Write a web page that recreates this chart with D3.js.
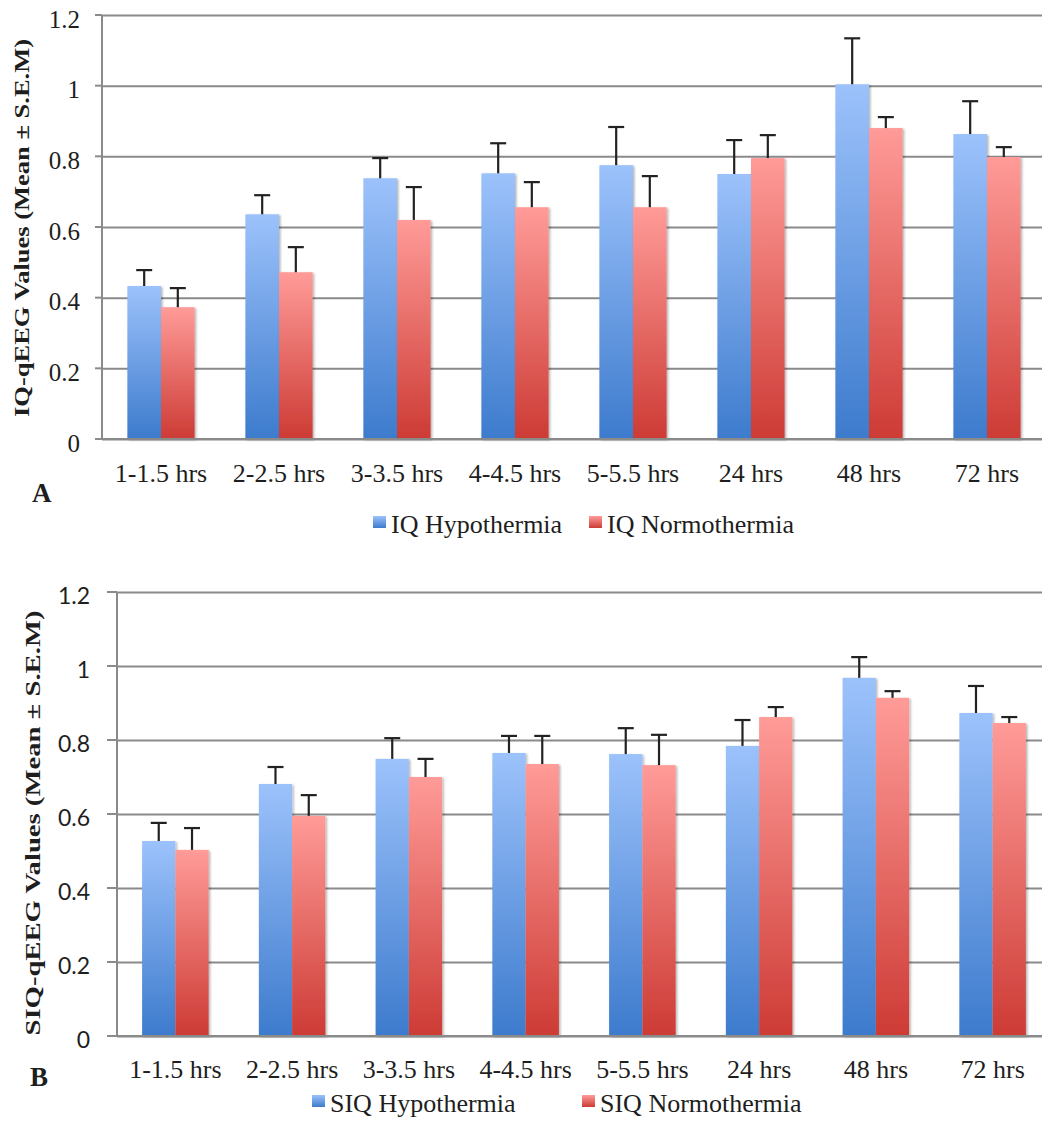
<!DOCTYPE html>
<html>
<head>
<meta charset="utf-8">
<script src="https://cdn.jsdelivr.net/npm/d3@7"></script>
<style>
  body { margin: 0; background: #fff; }
  svg { display: block; }
</style>
</head>
<body>
<svg id="fig"></svg>
<script>
// categories and tick labels
const categories = ["1-1.5 hrs", "2-2.5 hrs", "3-3.5 hrs", "4-4.5 hrs", "5-5.5 hrs", "24 hrs", "48 hrs", "72 hrs"];
const yTicks = [0, 0.2, 0.4, 0.6, 0.8, 1, 1.2];

// panel A (IQ)
const iqHypo      = [0.433, 0.636, 0.738, 0.752, 0.775, 0.750, 1.004, 0.863];
const iqHypoErr   = [0.045, 0.054, 0.057, 0.085, 0.108, 0.096, 0.130, 0.093];
const iqNormo     = [0.373, 0.472, 0.620, 0.656, 0.656, 0.795, 0.880, 0.798];
const iqNormoErr  = [0.054, 0.071, 0.093, 0.071, 0.088, 0.065, 0.031, 0.028];

// panel B (SIQ)
const siqHypo     = [0.527, 0.681, 0.749, 0.765, 0.762, 0.784, 0.968, 0.873];
const siqHypoErr  = [0.049, 0.046, 0.056, 0.046, 0.070, 0.070, 0.056, 0.073];
const siqNormo    = [0.503, 0.595, 0.700, 0.735, 0.732, 0.862, 0.914, 0.846];
const siqNormoErr = [0.059, 0.056, 0.049, 0.076, 0.082, 0.027, 0.018, 0.016];

const W = 1042, H = 1121;
const svg = d3.select("#fig").attr("width", W).attr("height", H);
const defs = svg.append("defs");

function grad(id, top, bottom) {
  const g = defs.append("linearGradient").attr("id", id)
    .attr("x1", 0).attr("y1", 0).attr("x2", 0).attr("y2", 1);
  g.append("stop").attr("offset", "0%").attr("stop-color", top);
  g.append("stop").attr("offset", "100%").attr("stop-color", bottom);
}
grad("gBlue", "#9cc2fb", "#3d7bcd");
grad("gRed", "#ff9b98", "#cd3b35");

const shadow = defs.append("filter").attr("id", "shadow")
  .attr("x", "-10%").attr("y", "-10%").attr("width", "130%").attr("height", "120%");
shadow.append("feDropShadow").attr("dx", 1.5).attr("dy", 1).attr("stdDeviation", 1.2)
  .attr("flood-color", "#000").attr("flood-opacity", 0.3);

const serif = "'Liberation Serif', 'Times New Roman', serif";

function drawChart(cfg) {
  const x = d3.scaleBand()
    .domain(categories)
    .range([cfg.left, cfg.right])
    .paddingInner(0.43)
    .paddingOuter(0.215);

  const xSub = d3.scaleBand()
    .domain([0, 1])
    .range([0, x.bandwidth()]);

  const y = d3.scaleLinear()
    .domain([0, 1.2])
    .range([cfg.bottom, cfg.top]);

  const g = svg.append("g");

  // gridlines
  g.append("g")
    .attr("transform", `translate(${cfg.left}, 0)`)
    .call(d3.axisLeft(y).tickValues(yTicks).tickSize(-(W - cfg.left + 10)).tickSizeOuter(0).tickFormat(""))
    .call(a => a.select(".domain").remove())
    .call(a => a.selectAll("line").attr("stroke", "#8a8a8a").attr("stroke-width", 2));

  // small ticks left of the axis
  g.append("g")
    .selectAll("line.tk")
    .data(yTicks)
    .enter().append("line")
      .attr("x1", cfg.left - cfg.tick)
      .attr("x2", cfg.left)
      .attr("y1", d => y(d))
      .attr("y2", d => y(d))
      .attr("stroke", "#8a8a8a")
      .attr("stroke-width", 2);

  // y axis line
  g.append("line")
    .attr("x1", cfg.left).attr("x2", cfg.left)
    .attr("y1", y(1.2)).attr("y2", y(0))
    .attr("stroke", "#8a8a8a").attr("stroke-width", 2);

  // tick labels
  g.append("g")
    .selectAll("text")
    .data(yTicks)
    .enter().append("text")
      .attr("x", cfg.tickLabelX)
      .attr("y", d => y(d))
      .attr("dy", "0.5em")
      .attr("text-anchor", "end")
      .attr("font-family", cfg.tickFont)
      .attr("font-size", cfg.tickSize)
      .attr("fill", "#1e1e1e")
      .text(d => d);

  // bars
  const series = [
    { vals: cfg.hypo, err: cfg.hypoErr, fill: "url(#gBlue)" },
    { vals: cfg.normo, err: cfg.normoErr, fill: "url(#gRed)" }
  ];

  series.forEach((s, si) => {
    const grp = g.append("g");
    categories.forEach((c, i) => {
      grp.append("rect")
        .attr("x", x(c) + xSub(si))
        .attr("y", y(s.vals[i]))
        .attr("width", xSub.bandwidth())
        .attr("height", y(0) - y(s.vals[i]))
        .attr("fill", s.fill)
        .attr("filter", "url(#shadow)");
    });
  });

  // error bars (upper only)
  series.forEach((s, si) => {
    const grp = g.append("g").attr("stroke", "#222").attr("stroke-width", 2.2);
    categories.forEach((c, i) => {
      const cx = x(c) + xSub(si) + xSub.bandwidth() / 2;
      const top = y(s.vals[i] + s.err[i]);
      grp.append("line")
        .attr("x1", cx).attr("x2", cx)
        .attr("y1", y(s.vals[i])).attr("y2", top);
      grp.append("line")
        .attr("x1", cx - 8).attr("x2", cx + 8)
        .attr("y1", top).attr("y2", top);
    });
  });

  // baseline
  g.append("line")
    .attr("x1", cfg.left - cfg.tick).attr("x2", W)
    .attr("y1", y(0)).attr("y2", y(0))
    .attr("stroke", "#8a8a8a").attr("stroke-width", 2);

  // x labels
  g.append("g")
    .selectAll("text")
    .data(categories)
    .enter().append("text")
      .attr("x", d => x(d) + x.bandwidth() / 2)
      .attr("y", cfg.xLabelY)
      .attr("text-anchor", "middle")
      .attr("font-family", serif)
      .attr("font-size", 26)
      .attr("fill", "#1e1e1e")
      .text(d => d);

  // y title
  g.append("text")
    .attr("transform", `translate(${cfg.titleX}, ${cfg.titleY}) rotate(-90)`)
    .attr("text-anchor", "middle")
    .attr("dominant-baseline", "middle")
    .attr("font-family", serif)
    .attr("font-weight", "bold")
    .attr("font-size", 22)
    .attr("textLength", cfg.titleLen)
    .attr("lengthAdjust", "spacingAndGlyphs")
    .attr("fill", "#1e1e1e")
    .text(cfg.title);

  // panel letter
  g.append("text")
    .attr("x", cfg.letterX)
    .attr("y", cfg.letterY)
    .attr("font-family", serif)
    .attr("font-weight", "bold")
    .attr("font-size", 27)
    .attr("fill", "#1e1e1e")
    .text(cfg.letter);

  // legend
  const leg = g.append("g");
  cfg.legend.forEach((l, i) => {
    leg.append("rect")
      .attr("x", l.x).attr("y", cfg.legendY - 17)
      .attr("width", 13).attr("height", 12)
      .attr("fill", i === 0 ? "url(#gBlue)" : "url(#gRed)");
    leg.append("text")
      .attr("x", l.x + 18).attr("y", cfg.legendY)
      .attr("font-family", serif)
      .attr("font-size", 26)
      .attr("fill", "#1e1e1e")
      .text(l.label);
  });
}

drawChart({
  left: 102, right: 1046, top: 15, bottom: 439, tick: 7,
  tickLabelX: 80, tickFont: serif, tickSize: 25,
  hypo: iqHypo, hypoErr: iqHypoErr, normo: iqNormo, normoErr: iqNormoErr,
  xLabelY: 482,
  title: "IQ-qEEG Values (Mean ± S.E.M)", titleX: 24, titleY: 228, titleLen: 378,
  letter: "A", letterX: 32, letterY: 502,
  legendY: 533,
  legend: [{ x: 373, label: "IQ Hypothermia" }, { x: 589, label: "IQ Normothermia" }]
});

drawChart({
  left: 117, right: 1051, top: 592, bottom: 1036, tick: 10,
  tickLabelX: 90, tickFont: "Lato, 'Open Sans', sans-serif", tickSize: 23,
  hypo: siqHypo, hypoErr: siqHypoErr, normo: siqNormo, normoErr: siqNormoErr,
  xLabelY: 1078,
  title: "SIQ-qEEG Values (Mean ± S.E.M)", titleX: 35, titleY: 823, titleLen: 425,
  letter: "B", letterX: 30, letterY: 1086,
  legendY: 1112,
  legend: [{ x: 312, label: "SIQ Hypothermia" }, { x: 582, label: "SIQ Normothermia" }]
});
</script>
</body>
</html>
